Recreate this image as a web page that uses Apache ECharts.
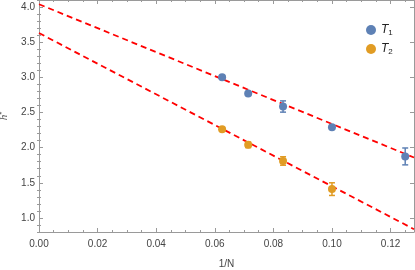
<!DOCTYPE html>
<html><head><meta charset="utf-8">
<script src="https://cdn.jsdelivr.net/npm/echarts@6/dist/echarts.min.js"></script>
<style>html,body{margin:0;padding:0;background:#fff}#c{width:415px;height:270px}</style>
</head><body><div id="c"></div>
<script>
const t1X = [0.0625, 0.0714, 0.0833, 0.1, 0.125];
const t1Y = [3.0, 2.77, 2.585, 2.29, 1.875];
const t1Err = [0.02, 0.02, 0.08, 0.02, 0.12];
const t2X = [0.0625, 0.0714, 0.0833, 0.1];
const t2Y = [2.26, 2.04, 1.81, 1.41];
const t2Err = [0.02, 0.04, 0.06, 0.09];
const fit1 = [[0, 4.04], [0.128, 1.86]];
const fit2 = [[0, 3.63], [0.128, 0.84]];
const yMajor = [1.0, 1.5, 2.0, 2.5, 3.0, 3.5, 4.0];
const yMinor = [0.8,0.9,1.1,1.2,1.3,1.4,1.6,1.7,1.8,1.9,2.1,2.2,2.3,2.4,2.6,2.7,2.8,2.9,3.1,3.2,3.3,3.4,3.6,3.7,3.8,3.9,4.1];

const C1 = '#5E81B5', C2 = '#E19C24';
const axisCol = '#9a9a9a';
const lab = {color:'#444', fontSize:10, fontFamily:'Liberation Sans'};

function pts(xs, ys){ return xs.map((x,i)=>[x, ys[i]]); }
function errs(xs, ys, es){ return xs.map((x,i)=>[x, ys[i], es[i]]); }
function errRender(color){
  return function(params, api){
    const x = api.value(0), y = api.value(1), e = api.value(2);
    const a = api.coord([x, y+e]), b = api.coord([x, y-e]);
    const w = 3;
    const st = {stroke: color, lineWidth: 1.5};
    return {type:'group', children:[
      {type:'line', shape:{x1:a[0], y1:a[1], x2:b[0], y2:b[1]}, style:st},
      {type:'line', shape:{x1:a[0]-w, y1:a[1], x2:a[0]+w, y2:a[1]}, style:st},
      {type:'line', shape:{x1:b[0]-w, y1:b[1], x2:b[0]+w, y2:b[1]}, style:st}
    ]};
  };
}

const xBase = {type:'value', min:0, max:0.128, interval:0.02,
  axisLine:{show:true, onZero:false, lineStyle:{color:axisCol}},
  axisTick:{show:true, inside:true, length:4, lineStyle:{color:axisCol}},
  minorTick:{show:true, splitNumber:4, length:2, lineStyle:{color:axisCol}},
  splitLine:{show:false}};
const yBase = {type:'value', min:0.8, max:4.1,
  axisLine:{show:true, onZero:false, lineStyle:{color:axisCol}},
  splitLine:{show:false}};

const option = {
  animation:false,
  grid:{left:39, right:1, top:0, bottom:38, containLabel:false, outerBoundsMode:'none'},
  legend:{orient:'vertical', left:361, top:19, itemWidth:10, itemHeight:10, itemGap:6,
    icon:'circle', data:['T1','T2'],
    formatter: n => '{i|T}{s|' + n.slice(1) + '}',
    textStyle:{rich:{i:{fontStyle:'italic', fontSize:12, color:'#222', fontFamily:'Liberation Sans'},
      s:{fontSize:8, color:'#222', verticalAlign:'bottom', padding:[6,0,0,0], fontFamily:'Liberation Sans'}}}},
  xAxis:[
    Object.assign({}, xBase, {position:'bottom', name:'1/N', nameLocation:'middle', nameGap:27,
      nameTextStyle:{color:'#444', fontSize:10, fontFamily:'Liberation Sans'},
      axisLabel:Object.assign({showMaxLabel:false, margin:7, formatter:v=>v.toFixed(2)}, lab)}),
    Object.assign({}, xBase, {position:'top', axisLabel:{show:false}})
  ],
  yAxis:[
    Object.assign({}, yBase, {position:'left', name:'{i|h}{s|*}', nameLocation:'middle', nameGap:29, nameRotate:90,
      nameTextStyle:{rich:{i:{fontStyle:'italic', fontSize:11, color:'#444', fontFamily:'Liberation Serif'},
        s:{fontSize:8, color:'#444', verticalAlign:'top', padding:[0,0,4,0]}}},
      axisLabel:Object.assign({customValues:yMajor, margin:4, formatter:v=>v.toFixed(1)}, lab),
      axisTick:{show:true, inside:true, length:4, customValues:yMajor, lineStyle:{color:axisCol}}}),
    Object.assign({}, yBase, {position:'left', axisLabel:{show:false, customValues:yMinor},
      axisLine:{show:false},
      axisTick:{show:true, inside:true, length:2, customValues:yMinor, lineStyle:{color:axisCol}}}),
    Object.assign({}, yBase, {position:'right', axisLabel:{show:false, customValues:yMajor},
      axisTick:{show:true, inside:true, length:4, customValues:yMajor, lineStyle:{color:axisCol}}}),
    Object.assign({}, yBase, {position:'right', axisLabel:{show:false, customValues:yMinor},
      axisLine:{show:false},
      axisTick:{show:true, inside:true, length:2, customValues:yMinor, lineStyle:{color:axisCol}}})
  ],
  series:[
    {type:'line', data:fit1, showSymbol:false, symbol:'none', silent:true, z:3,
      lineStyle:{color:'#ff0000', width:1.8, type:[6,4]}},
    {type:'line', data:fit2, showSymbol:false, symbol:'none', silent:true, z:3,
      lineStyle:{color:'#ff0000', width:1.8, type:[6,4]}},
    {type:'custom', data:errs(t1X,t1Y,t1Err), renderItem:errRender(C1), z:4},
    {type:'custom', data:errs(t2X,t2Y,t2Err), renderItem:errRender(C2), z:4},
    {name:'T1', type:'scatter', data:pts(t1X,t1Y), symbol:'circle', symbolSize:8, itemStyle:{color:C1, opacity:1}, z:5},
    {name:'T2', type:'scatter', data:pts(t2X,t2Y), symbol:'circle', symbolSize:8, itemStyle:{color:C2, opacity:1}, z:5}
  ]
};
echarts.init(document.getElementById('c')).setOption(option);
</script></body></html>
